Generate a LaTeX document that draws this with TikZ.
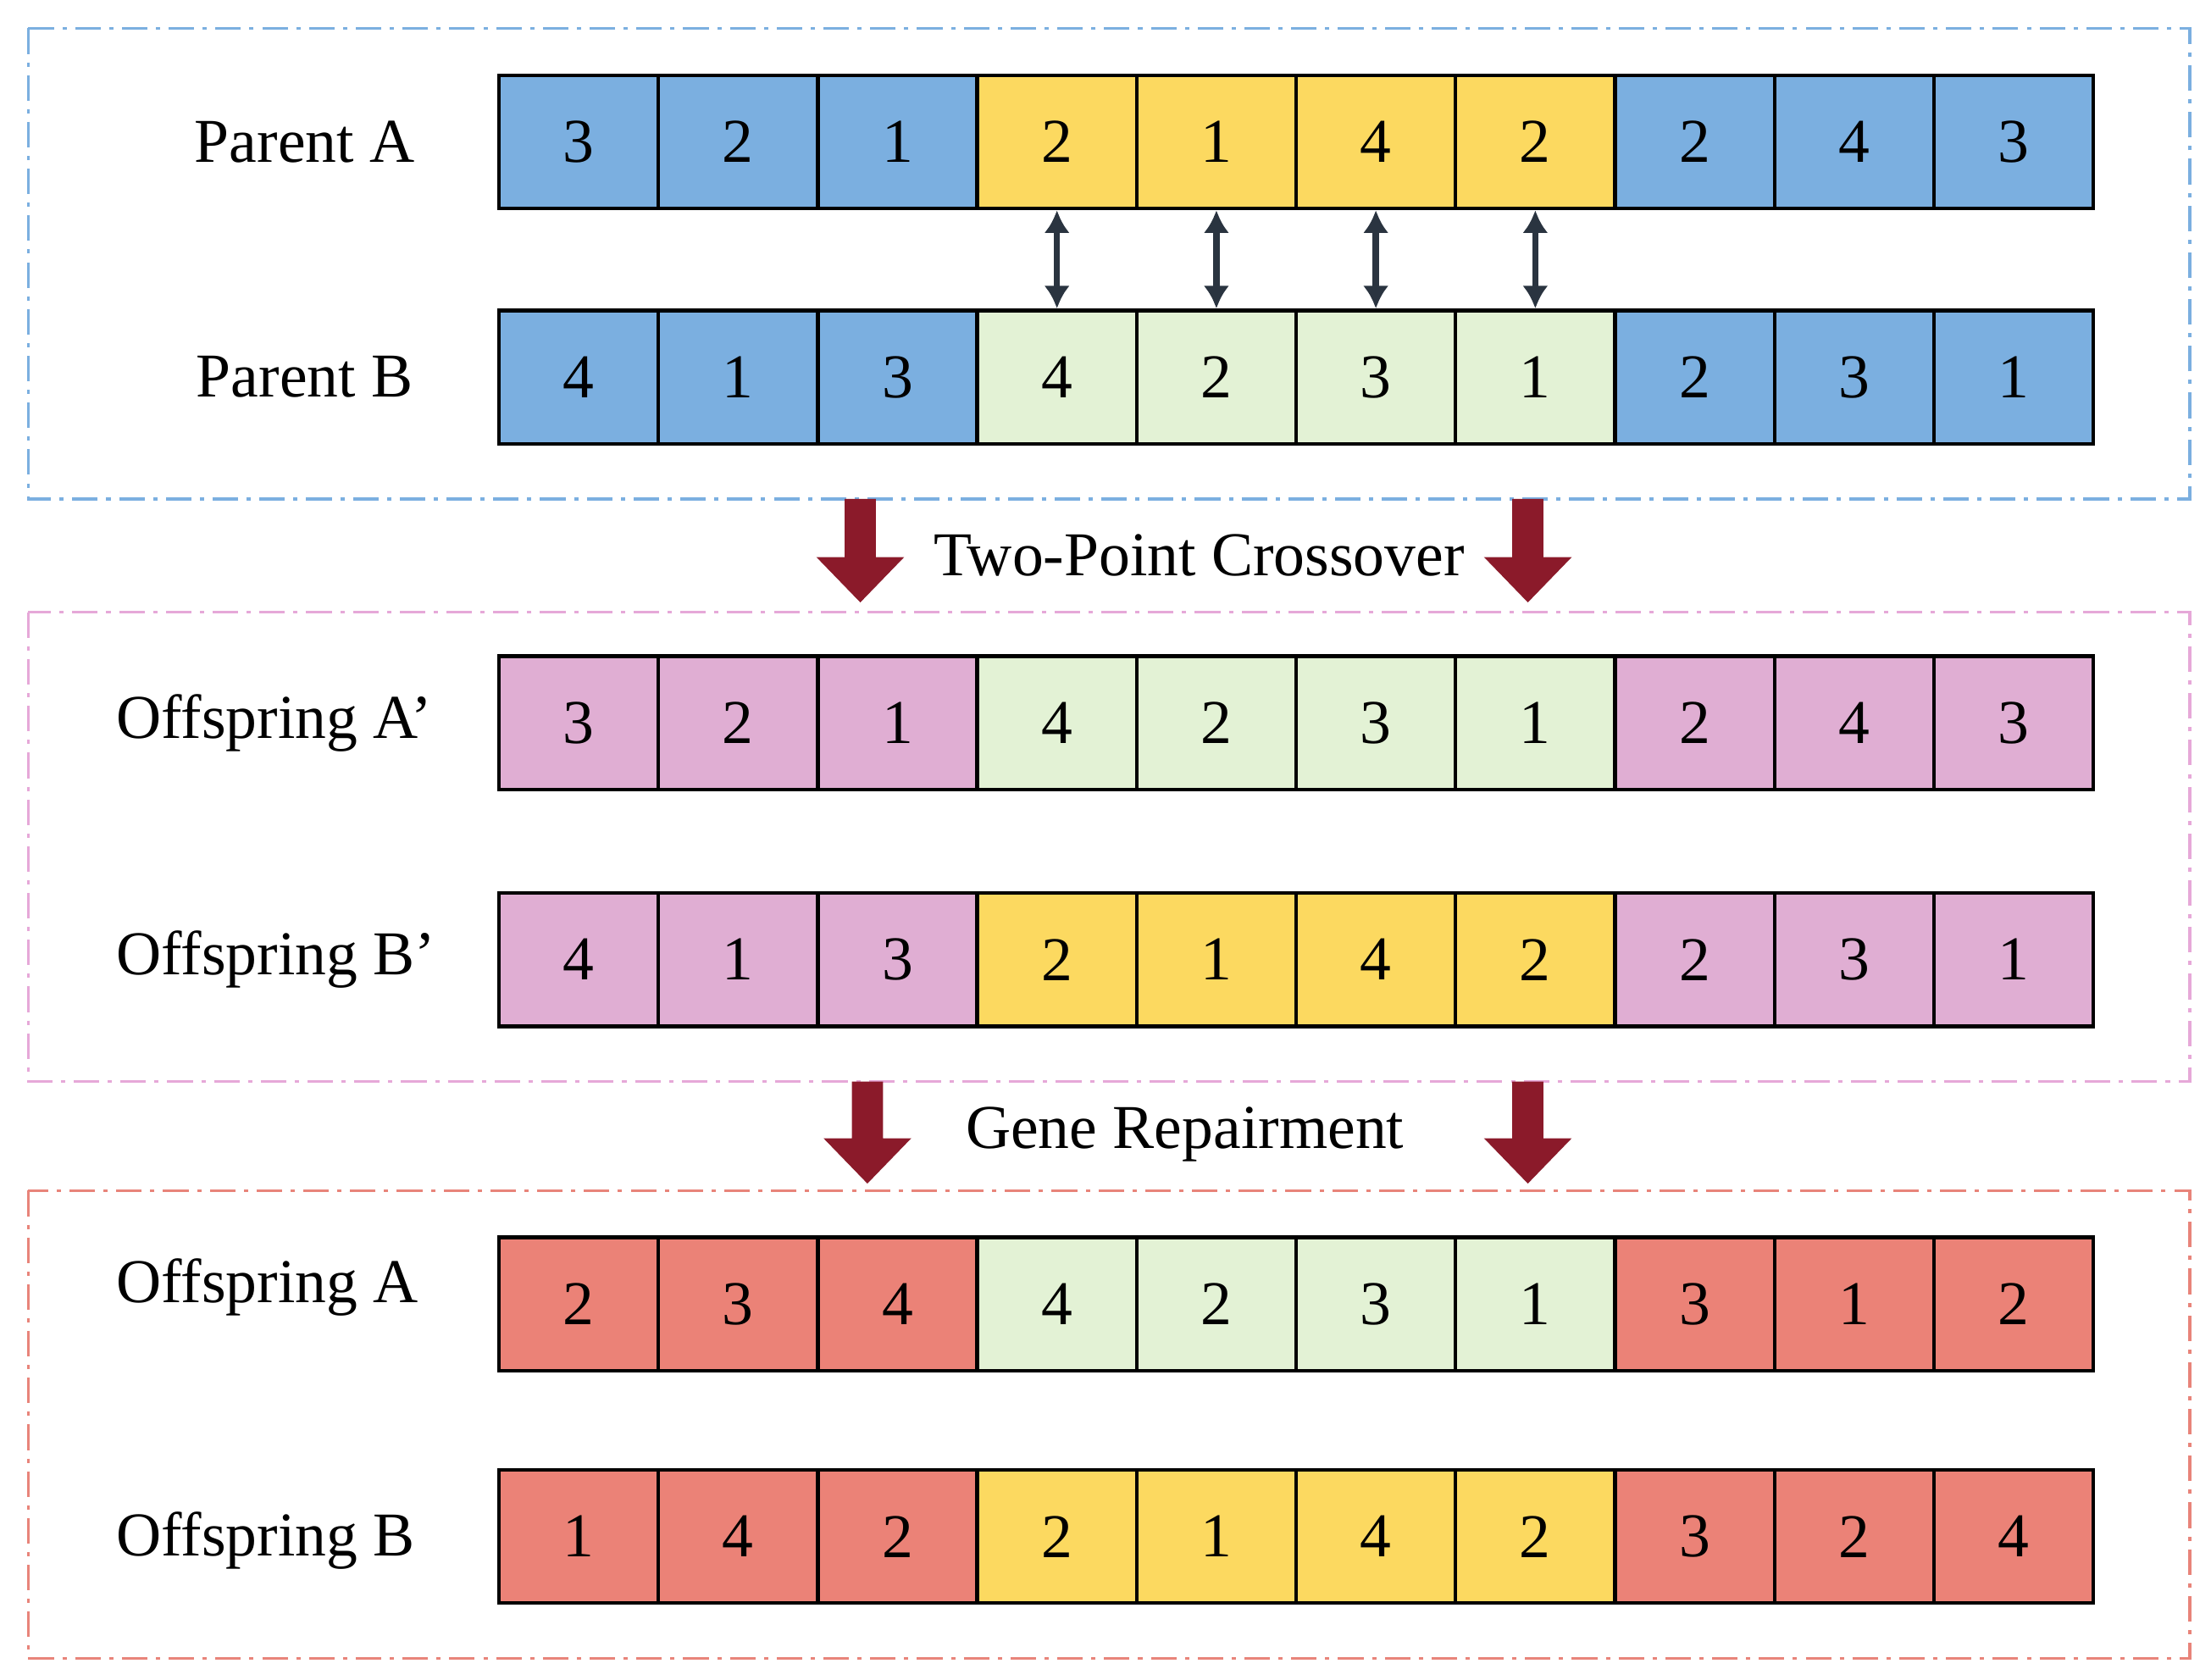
\documentclass[tikz,border=0pt]{standalone}
\usepackage{fontspec}
\setmainfont{Liberation Serif}
\usetikzlibrary{arrows.meta}
\definecolor{cb}{HTML}{7BAFE0}
\definecolor{cy}{HTML}{FCD960}
\definecolor{cg}{HTML}{E3F2D5}
\definecolor{cp}{HTML}{E0AED3}
\definecolor{cr}{HTML}{EB8277}
\definecolor{fb}{HTML}{7BAFE0}
\definecolor{fp}{HTML}{E6A8D8}
\definecolor{fr}{HTML}{E8847A}
\definecolor{dr}{HTML}{8B1A2A}
\definecolor{nv}{HTML}{2A3440}
\begin{document}
\begin{tikzpicture}[x=0.5pt,y=-0.5pt,
  cell/.style={draw=black,line width=1.3pt,minimum width=56.25pt,minimum height=47pt,inner sep=0pt,font=\fontsize{22}{24}\selectfont},
  lab/.style={font=\fontsize{22}{24}\selectfont},
  frame/.style={line width=1pt,dash pattern=on 9pt off 3pt on 1.5pt off 3pt},
  blk/.style={fill=dr,draw=none},
  dbl/.style={{Latex[length=8pt,width=9pt]}-{Latex[length=8pt,width=9pt]},line width=2.2pt,draw=nv}]
\useasboundingbox (0,0) rectangle (1560,1185);
\draw[frame,draw=fb] (20,20) rectangle (1545,352);
\draw[frame,draw=fp] (20,432) rectangle (1545,763);
\draw[frame,draw=fr] (20,840) rectangle (1545,1170);
% rows: name/y/colors/values
\def\row#1#2#3{%
  \foreach \v [count=\i] in {#3} {
    \pgfmathsetmacro\xx{352+112.5*(\i-0.5)}
    \ifnum\i<4 \def\cc{#2}\else\ifnum\i>7 \def\cc{#2}\else\def\cc{\csname mid#1\endcsname}\fi\fi
    \node[cell,fill=\cc] (#1\i) at (\xx,#1y) {\v};
  }}
\def\mkrow#1#2#3#4#5{\expandafter\def\csname mid#1\endcsname{#4}%
  \foreach \v [count=\i] in {#5} {
    \pgfmathsetmacro\xx{352+112.5*(\i-0.5)}
    \ifnum\i<4 \def\cc{#3}\else\ifnum\i>7 \def\cc{#3}\else\def\cc{#4}\fi\fi
    \node[cell,fill=\cc] (#1\i) at (\xx,#2) {\v};
  }}
\mkrow{pa}{100}{cb}{cy}{3,2,1,2,1,4,2,2,4,3}
\mkrow{pb}{266}{cb}{cg}{4,1,3,4,2,3,1,2,3,1}
\mkrow{oa}{510}{cp}{cg}{3,2,1,4,2,3,1,2,4,3}
\mkrow{ob}{677}{cp}{cy}{4,1,3,2,1,4,2,2,3,1}
\mkrow{fa}{920}{cr}{cg}{2,3,4,4,2,3,1,3,1,2}
\mkrow{fb}{1084}{cr}{cy}{1,4,2,2,1,4,2,3,2,4}
\node[lab] (lpa) at (215,100) {Parent A};
\node[lab] (lpb) at (215,266) {Parent B};
\node[lab,anchor=west] (loa) at (75,510) {Offspring A’};
\node[lab,anchor=west] (lob) at (75,677) {Offspring B’};
\node[lab,anchor=west] (lfa) at (75,908) {Offspring A};
\node[lab,anchor=west] (lfb) at (75,1087) {Offspring B};
\foreach \i in {4,...,7} \draw[dbl] (pa\i.south) -- (pb\i.north);
\node[lab] (t1) at (846,392) {Two-Point Crossover};
\node[lab] (t2) at (836,800) {Gene Repairment};
\def\barr#1#2#3{\fill[dr] (#1-11,#2) -- (#1+11,#2) -- (#1+11,#3-32) -- (#1+31,#3-32) -- (#1,#3) -- (#1-31,#3-32) -- (#1-11,#3-32) -- cycle;}
\barr{607}{352}{425}
\barr{1078}{352}{425}
\barr{612}{763}{835}
\barr{1078}{763}{835}
\end{tikzpicture}
\end{document}
